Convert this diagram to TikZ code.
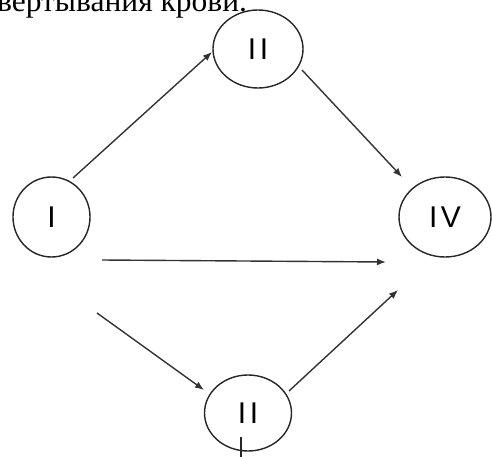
\documentclass[tikz,border=0pt]{standalone}
\usepackage{fontspec}
\setmainfont{Liberation Serif}
\newfontfamily\labelfont[LetterSpace=12]{Liberation Sans}
\usetikzlibrary{arrows.meta,shapes.geometric}

\begin{document}
\begin{tikzpicture}[x=1pt,y=-1pt,
    stage/.style={draw=black!85, line width=1.4pt, ellipse, inner sep=0pt,
        font=\labelfont\fontsize{30}{30}\selectfont},
    arr/.style={draw=black!80, line width=1.4pt, -{Latex[length=9pt,width=7pt]}}]
    \useasboundingbox (0,0) rectangle (492,457);

    % Texte coupe en haut
    \node[anchor=base west, inner sep=0pt, font=\fontsize{31.5}{31.5}\selectfont] (title) at (-3,11.5) {вертывания крови.};

    % Les stades
    \node[stage, minimum width=77pt, minimum height=80pt] (I) at (51.5,217) {I};
    \node[stage, minimum width=90pt, minimum height=78pt] (topII) at (258,49) {II};
    \node[stage, minimum width=92pt, minimum height=80pt] (IV) at (445,217) {IV};
    \node[stage, minimum width=87pt, minimum height=76pt] (botII) at (248,413) {II};

    % Fleches
    \draw[arr] ([shift={(21.5,-39)}]I.center) -- ([shift={(-46,3)}]topII.center);
    \draw[arr] ([shift={(44,21)}]topII.center) -- ([shift={(-43,-40)}]IV.center);
    \draw[arr] ([shift={(50.5,43)}]I.center) -- ([shift={(-59,45)}]IV.center);
    \draw[arr] ([shift={(45.5,96)}]I.center) -- ([shift={(-44,-23)}]botII.center);
    \draw[arr] ([shift={(41,-22)}]botII.center) -- ([shift={(-47,73)}]IV.center);

    % Trait vers le bas
    \coordinate (down) at (241,460);
    \draw[draw=black!85, line width=1.4pt] ([shift={(-7,24)}]botII.center) -- (down);
\end{tikzpicture}
\end{document}
